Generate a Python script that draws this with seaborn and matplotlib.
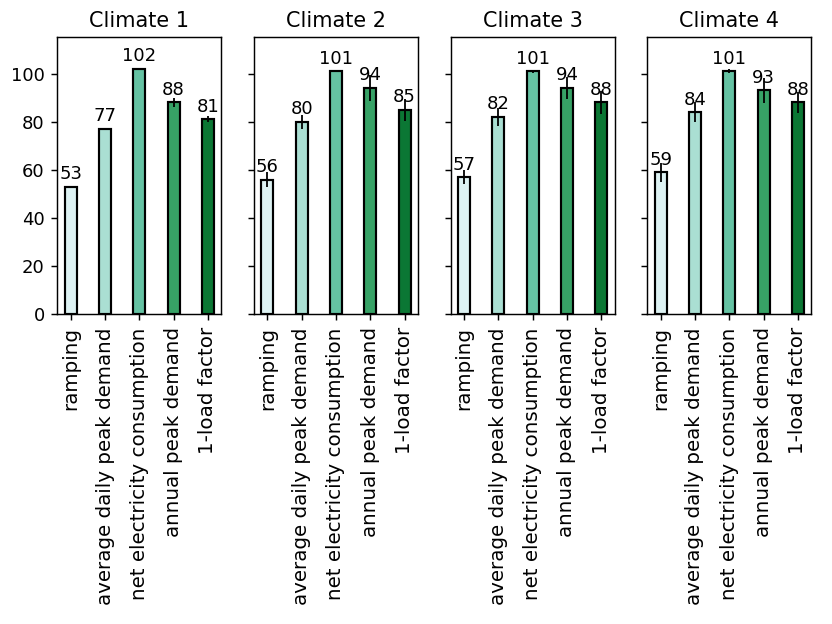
import pandas as pd
import seaborn as sns
import matplotlib.pyplot as plt
from matplotlib.container import BarContainer

# categories and values
metrics = ['ramping', 'average daily peak demand', 'net electricity consumption',
           'annual peak demand', '1-load factor']
climates = ['Climate 1', 'Climate 2', 'Climate 3', 'Climate 4']

means_c1 = [53, 77, 102, 88, 81]
means_c2 = [56, 80, 101, 94, 85]
means_c3 = [57, 82, 101, 94, 88]
means_c4 = [59, 84, 101, 93, 88]

errs_c1 = [0.3, 0.6, 0.4, 1.7, 1.2]
errs_c2 = [3.1, 2.8, 0.5, 5.4, 4.5]
errs_c3 = [3.0, 3.8, 0.6, 4.6, 4.9]
errs_c4 = [4.0, 4.3, 0.7, 5.2, 4.2]

all_means = [means_c1, means_c2, means_c3, means_c4]
all_errs = [errs_c1, errs_c2, errs_c3, errs_c4]

colors = sns.color_palette('BuGn', 5)

fig, axes = plt.subplots(1, 4, figsize=(6.4, 4.8), dpi=130, sharey=True)

for ax, name, means, errs in zip(axes, climates, all_means, all_errs):
    df = pd.DataFrame({'metric': metrics, 'value': means})
    sns.barplot(data=df, x='metric', y='value', hue='metric', palette=colors,
                saturation=1, width=0.35, edgecolor='black', linewidth=1.2,
                legend=False, errorbar=None, ax=ax)
    # labels on the bar tops (before the error bars are added)
    for cont in ax.containers:
        if isinstance(cont, BarContainer):
            ax.bar_label(cont, fmt='%d', padding=2, fontsize=10)
    ax.errorbar(range(len(metrics)), means, yerr=errs, fmt='none',
                ecolor='black', elinewidth=1)
    ax.set_title(name, fontsize=11.5)
    ax.set_xlabel('')
    ax.set_ylabel('')
    ax.set_xlim(-0.39, 4.39)
    ax.tick_params(axis='x', labelrotation=90, labelsize=11)
    ax.tick_params(axis='y', labelsize=10)

axes[0].set_ylim(0, 115)
axes[0].set_yticks([0, 20, 40, 60, 80, 100])

plt.subplots_adjust(left=0.069, right=0.975, top=0.94, bottom=0.496, wspace=0.2)
plt.savefig('out.png', dpi=130)
